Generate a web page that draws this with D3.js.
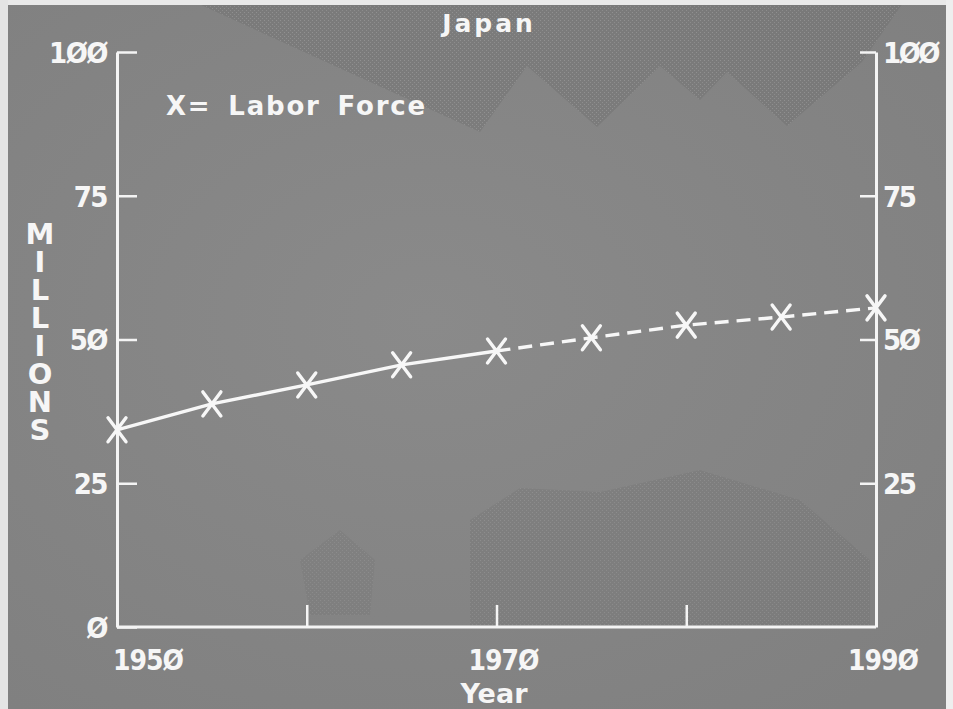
<!DOCTYPE html>
<html>
<head>
<meta charset="utf-8">
<script src="https://cdn.jsdelivr.net/npm/d3@7/dist/d3.min.js"></script>
<style>
  html, body { margin: 0; padding: 0; background: #848484; }
  svg { display: block; }
  text { fill: #f6f6f6; font-family: "DejaVu Sans", sans-serif; }
</style>
</head>
<body>
<svg id="chart" width="953" height="709"></svg>
<script>
// Japan labor force, millions (solid = recorded, dashed = projected)
const years = [1950, 1955, 1960, 1965, 1970, 1975, 1980, 1985, 1990];
const laborForce = [34.3, 38.8, 42.1, 45.6, 48.0, 50.3, 52.5, 53.9, 55.5];
const projectionStart = 1970;

const yTickValues = [0, 25, 50, 75, 100];
const yTickLabels = ["Ø", "25", "5Ø", "75", "1ØØ"];
const xTickValues = [1950, 1960, 1970, 1980, 1990];
const xLabelYears = [1950, 1970, 1990];
const xLabelTexts = ["195Ø", "197Ø", "199Ø"];

const title = "Japan";
const legendText = "X= Labor Force";
const yTitle = "MILLIONS";
const xTitle = "Year";

const W = 953, H = 709;
const svg = d3.select("#chart");
const condensed = "'DejaVu Sans Condensed', 'DejaVu Sans', sans-serif";

// ---- paper / background ----
const defs = svg.append("defs");
const pat = defs.append("pattern")
  .attr("id", "grain").attr("width", 4).attr("height", 4)
  .attr("patternUnits", "userSpaceOnUse");
pat.append("rect").attr("width", 4).attr("height", 4).attr("fill", "#6f6f6f");
pat.append("rect").attr("x", 0).attr("y", 0).attr("width", 1).attr("height", 1).attr("fill", "#a0a0a0");
pat.append("rect").attr("x", 2).attr("y", 2).attr("width", 1).attr("height", 1).attr("fill", "#989898");

const bgGrad = defs.append("radialGradient").attr("id", "bgGrad")
  .attr("cx", "45%").attr("cy", "45%").attr("r", "70%");
bgGrad.append("stop").attr("offset", "0%").attr("stop-color", "#8a8a8a");
bgGrad.append("stop").attr("offset", "100%").attr("stop-color", "#808080");

svg.append("rect").attr("width", W).attr("height", H).attr("fill", "url(#bgGrad)");

// darker, grainy areas of the backdrop
svg.append("path")
  .attr("d", "M190,0 L480,132 L527,66 L597,127 L660,66 L700,100 L727,72 L787,126 L862,62 L905,0 Z")
  .attr("fill", "url(#grain)").attr("opacity", 0.45);
svg.append("path")
  .attr("d", "M470,520 L520,488 L600,492 L700,470 L800,500 L870,560 L870,627 L470,627 Z")
  .attr("fill", "url(#grain)").attr("opacity", 0.3);
svg.append("path")
  .attr("d", "M300,560 L340,530 L375,560 L370,615 L310,615 Z")
  .attr("fill", "url(#grain)").attr("opacity", 0.25);

// light scan edges
svg.append("rect").attr("x", 0).attr("y", 0).attr("width", W).attr("height", 5).attr("fill", "#e9e9e9");
svg.append("rect").attr("x", 0).attr("y", 0).attr("width", 8).attr("height", H).attr("fill", "#e4e4e4");
svg.append("rect").attr("x", 946).attr("y", 0).attr("width", 7).attr("height", H).attr("fill", "#eeeeee");

// ---- scales ----
const x = d3.scaleLinear().domain([1950, 1990]).range([117, 876]);
const y = d3.scaleLinear().domain([0, 100]).range([627, 52]);

const axisColor = "#f4f4f4";
function styleAxis(g) {
  g.select(".domain").attr("stroke", axisColor).attr("stroke-width", 3);
  g.selectAll(".tick line").attr("stroke", axisColor).attr("stroke-width", 2.5);
  g.selectAll(".tick text")
    .attr("fill", "#f6f6f6")
    .style("font-family", condensed)
    .style("font-weight", "bold")
    .style("font-size", "29px")
    .style("letter-spacing", "-1.5px")
    .attr("dy", "0.36em");
}

// left axis, ticks pointing inward
const leftAxis = d3.axisLeft(y)
  .tickValues(yTickValues)
  .tickSizeInner(-20).tickSizeOuter(0)
  .tickPadding(10)
  .tickFormat((d, i) => yTickLabels[i]);
svg.append("g").attr("transform", `translate(${x(1950)},0)`)
  .call(leftAxis).call(styleAxis);

// right axis, ticks pointing inward
const rightAxis = d3.axisRight(y)
  .tickValues(yTickValues.slice(1))
  .tickSizeInner(-16).tickSizeOuter(0)
  .tickPadding(7)
  .tickFormat((d, i) => yTickLabels[i + 1]);
svg.append("g").attr("transform", `translate(${x(1990)},0)`)
  .call(rightAxis).call(styleAxis)
  .selectAll(".tick text").style("letter-spacing", "-2.5px");

// bottom axis with short upward ticks
const bottomAxis = d3.axisBottom(x)
  .tickValues(xTickValues)
  .tickSizeInner(-22).tickSizeOuter(0)
  .tickFormat("");
const gx = svg.append("g").attr("transform", `translate(0,${y(0)})`)
  .call(bottomAxis).call(styleAxis);
gx.select(".domain").attr("d", `M${x(1950)},0H${x(1990)}`);

// year labels below the axis
svg.append("g").selectAll("text")
  .data(xLabelYears)
  .join("text")
  .attr("x", (d, i) => i === 0 ? x(d) - 4 : x(d) + 7)
  .attr("y", y(0) + 43)
  .attr("text-anchor", (d, i) => i === 0 ? "start" : "middle")
  .style("font-family", condensed)
  .style("font-size", "28px")
  .style("font-weight", "bold")
  .style("letter-spacing", "-1px")
  .text((d, i) => xLabelTexts[i]);

// ---- series line ----
const pts = years.map((yr, i) => ({ yr, v: laborForce[i] }));
const line = d3.line().x(d => x(d.yr)).y(d => y(d.v));

svg.append("path")
  .datum(pts.filter(d => d.yr <= projectionStart))
  .attr("d", line)
  .attr("fill", "none").attr("stroke", "#f7f7f7")
  .attr("stroke-width", 3.4).attr("stroke-linecap", "round");

svg.append("path")
  .datum(pts.filter(d => d.yr >= projectionStart))
  .attr("d", line)
  .attr("fill", "none").attr("stroke", "#f7f7f7")
  .attr("stroke-width", 3.4)
  .attr("stroke-dasharray", "14 8");

// X markers
const mx = 9, my = 12;
svg.append("g").selectAll("path")
  .data(pts)
  .join("path")
  .attr("d", d => {
    const cx = x(d.yr), cy = y(d.v);
    return `M${cx - mx},${cy - my}L${cx + mx},${cy + my}M${cx + mx},${cy - my}L${cx - mx},${cy + my}`;
  })
  .attr("stroke", "#f7f7f7").attr("stroke-width", 3.4)
  .attr("stroke-linecap", "round").attr("fill", "none");

// ---- titles ----
svg.append("text")
  .attr("x", 489).attr("y", 32)
  .attr("text-anchor", "middle")
  .style("font-size", "25px").style("font-weight", "bold")
  .style("letter-spacing", "3px")
  .text(title);

svg.append("text")
  .attr("x", 166).attr("y", 115)
  .style("font-size", "26px")
  .style("font-weight", "600")
  .style("letter-spacing", "1.8px")
  .style("word-spacing", "6px")
  .text(legendText);

// stacked vertical axis title, one upright letter per line
svg.append("text")
  .attr("x", 40).attr("y", 217)
  .style("writing-mode", "vertical-rl")
  .style("text-orientation", "upright")
  .style("font-size", "29px").style("font-weight", "bold")
  .style("letter-spacing", "-6px")
  .text(yTitle);

svg.append("text")
  .attr("x", 494).attr("y", 703)
  .attr("text-anchor", "middle")
  .style("font-size", "27px").style("font-weight", "bold")
  .text(xTitle);
</script>
</body>
</html>
